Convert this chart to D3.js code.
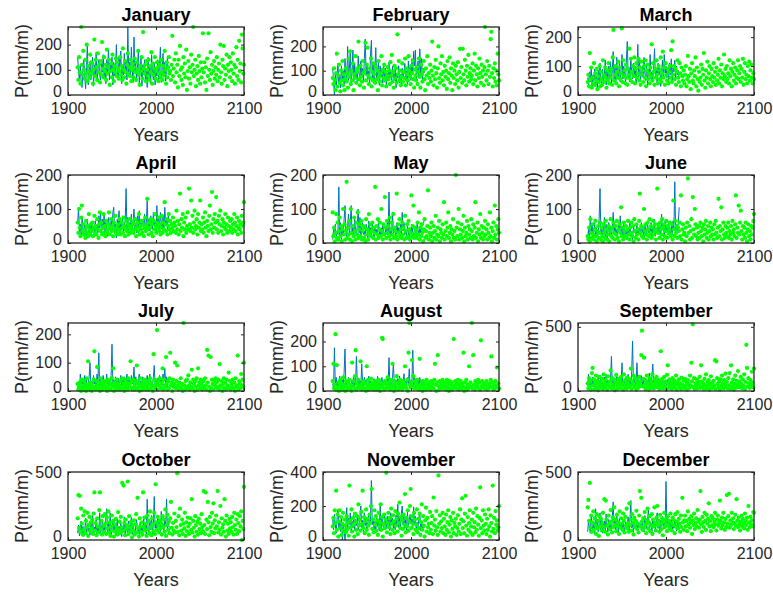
<!DOCTYPE html>
<html>
<head>
<meta charset="utf-8">
<script src="https://cdn.jsdelivr.net/npm/d3@7"></script>
<style>
  html, body { margin: 0; padding: 0; background: #fff; }
  svg { display: block; font-family: "Liberation Sans", Arial, Helvetica, sans-serif; }
</style>
</head>
<body>
<svg id="chart" width="773" height="595"></svg>
<script>
// Monthly precipitation: observed series (line, 1911-2015) and simulated values (dots, 1911-2100)
const months = ["January", "February", "March", "April", "May", "June",
  "July", "August", "September", "October", "November", "December"];
const yMax = [270, 280, 235, 200, 200, 200, 240, 275, 530, 500, 400, 500];
const yTicks = [[0,100,200],[0,100,200],[0,100,200],[0,100,200],[0,100,200],[0,100,200],
  [0,100,200],[0,100,200],[0,500],[0,500],[0,200,400],[0,500]];
const xTicks = [1900, 2000, 2100];
const obsStartYear = 1911;
const simStartYear = 1911, simEndYear = 2100;

// Observed monthly totals, one value per year from 1911
const obsJan = [150,90,60,120,45,30,100,140,70,25,110,205,40,80,130, 60,95,150,35,120,75,170,55,100,140,80,60,125,90,160, 70,110,45,140,85,180,60,120,95,150,40,130,75,105,200, 90,60,150,110,175,45,120,80,165,100,140,60,270,90,130, 70,190,100,50,230,85,130,60,110,180,45,95,150,35,120, 80,140,50,100,30,150,70,115,45,160,90,60,130,40,110, 75,140,60,120,190,50,100,165,70,130,55,110,150,80,95];
const obsFeb = [110,60,0,90,40,70,130,50,85,30,120,65,100,45,150, 80,50,200,60,110,175,40,90,185,55,130,70,100,45,160, 90,60,140,75,110,50,150,230,80,120,65,100,45,170,225, 70,130,50,110,195,60,90,140,40,120,75,100,50,130,65, 110,40,90,60,135,70,100,45,120,80,60,110,30,90,70, 120,50,85,40,110,70,95,130,60,100,45,140,80,115,60, 150,90,180,120,185,60,100,140,70,190,80,150,60,110,90];
const obsMar = [60,35,80,45,100,25,70,50,90,30,65,20,85,40,110, 55,30,90,45,70,120,35,80,50,100,60,115,40,85,150, 50,95,35,130,70,60,110,45,90,140,55,100,75,40,120, 185,60,95,45,130,80,55,110,70,100,40,90,175,60,120, 45,85,100,60,130,75,50,110,35,90,65,140,55,80,45, 100,160,60,85,40,110,70,95,30,80,120,55,140,75,100, 60,90,45,110,70,125,50,95,80,120,60,100,70,85,55];
const obsApr = [60,105,30,55,20,75,40,25,60,35,15,70,45,30,55, 20,60,40,50,25,65,35,55,30,80,45,90,25,70,40, 85,30,60,45,20,75,50,35,65,40,90,105,30,55,15, 70,40,95,30,60,45,80,35,50,65,160,40,75,30,60, 50,85,35,65,100,40,55,30,80,45,95,35,60,50,70, 40,85,30,60,125,45,70,35,80,55,40,90,50,65,35, 110,50,75,40,90,60,45,80,35,105,55,70,40,85,60];
const obsMay = [10,40,20,55,15,35,25,165,20,60,10,45,25,70,110, 30,15,50,85,20,60,110,25,45,15,70,35,20,55,100, 30,75,15,45,60,25,35,20,55,40,15,65,30,45,20, 60,35,15,50,25,40,20,65,35,15,45,25,55,30,20, 40,25,60,35,150,20,45,30,90,25,50,35,20,60,30, 45,25,55,20,90,35,60,25,40,20,50,30,15,45,25, 55,30,20,45,35,25,60,40,20,50,30,45,55,60,65];
const obsJun = [15,40,10,80,25,55,15,35,60,20,45,10,30,70,160, 25,50,15,40,75,20,55,10,35,60,25,45,15,50,90, 30,55,20,40,15,60,35,80,25,45,10,55,30,20,40, 15,45,25,60,20,35,10,50,30,40,15,55,25,35,45, 20,60,30,45,15,55,35,20,65,30,45,25,60,15,50, 35,70,20,45,30,60,25,50,15,85,40,55,20,65,30, 45,25,60,35,20,50,30,65,40,180,25,55,35,60,105];
const obsJul = [10,30,5,60,20,45,10,35,55,15,40,5,25,50,100, 20,35,10,55,25,40,15,60,30,135,20,45,10,35,55, 15,40,25,60,10,45,30,20,55,165,25,40,10,50,30, 20,45,10,35,55,15,40,25,50,10,35,60,20,45,30, 15,55,25,40,85,20,50,30,10,45,60,25,35,15,50, 30,10,45,25,55,20,40,60,15,35,25,50,90,20,40, 15,45,25,55,30,40,20,60,35,80,25,50,15,45,30];
const obsAug = [30,10,175,20,55,5,35,15,60,25,10,45,20,75,170, 15,40,10,55,25,30,5,45,20,60,15,35,140,25,50, 10,40,20,110,35,15,55,25,45,10,30,60,20,40,15, 35,20,50,10,40,25,60,15,30,45,20,55,10,35,25, 45,15,60,25,135,20,40,10,55,110,30,15,45,25,50, 20,60,30,15,45,25,70,10,40,20,55,30,90,15,45, 35,165,25,60,15,50,20,40,10,55,30,45,20,40,25];
const obsSep = [40,130,60,20,90,45,110,30,70,15,85,50,120,25,60, 95,35,70,20,110,50,130,40,85,25,60,100,270,45,75, 30,90,55,120,20,70,40,100,60,220,35,80,50,110,25, 65,130,45,90,30,150,390,60,110,40,75,220,55,95,30, 70,120,45,90,25,60,100,35,80,50,140,30,70,110,210, 55,95,30,70,45,100,25,65,85,40,110,55,30,80,60, 45,90,35,100,60,75,30,85,50,95,40,70,55,80,45];
const obsOct = [50,110,30,80,140,45,100,25,70,160,40,120,60,90,35, 130,55,180,40,95,70,150,30,110,60,200,45,85,130,50, 100,70,160,230,40,120,65,200,30,90,140,55,110,35,80, 150,45,100,70,130,25,90,60,170,40,115,75,30,140,55, 95,165,40,120,70,30,105,150,55,85,40,130,65,110,45, 160,70,125,40,300,90,55,140,75,180,45,115,320,85,130, 60,175,95,140,50,210,80,120,65,160,100,300,70,150,90];
const obsNov = [120,60,150,90,40,130,180,70,110,50,140,0,100,60,0, 80,190,50,130,90,160,40,110,70,145,55,120,85,150,60, 95,140,200,70,115,45,160,85,130,60,105,150,75,120,350, 90,130,60,110,45,140,80,100,55,215,70,125,90,60,150, 100,65,140,85,120,55,160,95,130,70,110,60,145,85,210, 75,130,60,155,200,90,140,70,120,55,165,85,110,150,95, 125,70,195,90,140,60,105,80,130,160,55,100,65,85,70];
const obsDec = [60,140,90,50,170,110,70,130,45,230,95,150,60,120,200, 80,160,50,110,140,70,190,100,60,150,85,125,55,170,280, 90,140,65,200,110,45,160,85,120,70,150,95,60,130,80, 110,170,60,140,290,90,120,55,160,100,75,145,65,130,90, 120,70,150,95,60,180,110,85,140,230,75,125,100,60,160, 90,135,70,150,200,85,120,60,145,100,175,80,130,95,430, 110,160,75,130,95,150,70,120,85,140,100,65,125,90,110];

// Simulated monthly totals, evenly spread over 1911-2100
const simJan = [110,60,150,90,45,270,120,80,175,100,65,140,85,200,55,115,95,70,160,130, 85,125,45,100,220,75,140,110,60,165,90,120,50,135,80,210,105,70,150,95, 120,60,180,85,110,140,40,95,125,70,160,100,55,115,90,145,75,130,105,65, 95,150,80,115,60,185,100,70,135,90,45,120,165,85,110,75,140,55,100,125, 70,110,145,90,60,130,100,175,80,40,115,95,150,65,250,105,85,120,55,135, 100,75,140,60,115,90,170,45,125,80,105,150,65,95,130,110,55,85,120,70, 140,90,60,115,80,175,100,45,130,70,110,150,85,95,60,120,235,75,105,140, 50,165,90,120,30,140,75,195,100,60,110,40,150,85,125,70,180,20,95,135, 65,110,45,160,90,120,270,75,100,140,35,85,115,60,155,95,45,130,70,105, 245,90,130,50,110,20,145,75,245,100,60,170,85,120,40,95,135,65,110,80, 150,55,100,125,70,200,90,45,140,115,195,60,105,80,160,35,120,95,150,70, 130,100,55,165,85,120,45,110,190,75,140,60,215,95,125,50,240,185,85,120];
const simFeb = [70,45,110,60,20,90,170,35,80,125,50,15,100,60,140,40,85,20,65,110, 55,90,30,150,75,180,45,100,60,130,20,85,70,160,50,95,110,220,65,40, 120,75,55,140,90,30,100,215,60,125,195,80,45,110,70,150,35,95,60,130, 85,50,115,65,100,20,140,75,55,90,160,40,105,70,125,60,95,35,80,115, 65,100,45,135,80,165,55,95,30,120,70,110,50,250,85,140,60,100,40,75, 130,55,95,70,150,40,110,85,60,160,100,75,45,120,90,140,65,30,105,80, 60,115,45,95,150,75,30,125,85,55,100,140,65,20,110,80,160,45,90,70, 125,55,100,220,80,40,115,65,145,90,30,110,200,70,50,130,85,160,60,95, 40,120,75,100,25,140,65,90,155,50,110,80,20,130,70,100,45,120,85,60, 135,30,95,190,70,115,50,190,85,60,145,100,40,120,75,165,55,90,110,65, 80,130,45,100,170,60,120,85,35,110,70,150,90,50,125,75,100,40,115,280, 85,60,140,100,45,120,75,230,260,90,35,110,70,130,55,100,40,170,85,60];
const simMar = [45,70,30,145,55,95,25,60,40,110,35,75,50,90,20,65,45,100,30,80, 55,35,120,70,45,95,60,25,85,50,110,40,75,60,90,35,130,225,50,70, 100,40,80,60,115,30,95,55,75,230,45,120,65,85,40,105,60,35,90,70, 160,55,125,80,45,100,65,130,40,90,110,60,75,125,50,95,35,115,70,85, 45,100,60,120,30,85,105,55,75,40,95,65,175,50,110,80,35,90,60,120, 70,40,100,55,85,130,45,75,150,60,95,35,110,70,50,90,40,80,100,60, 155,45,185,70,100,55,90,35,80,120,60,45,110,75,30,95,65,50,85,40, 70,100,30,55,135,65,45,90,20,75,110,50,40,85,65,130,30,95,55,15, 80,45,60,105,35,90,70,145,50,25,85,60,115,40,75,100,55,30,90,65, 45,110,60,80,35,95,50,70,125,40,85,60,105,30,75,55,140,65,90,45, 100,55,75,40,120,65,90,30,80,110,50,70,95,40,60,85,120,55,75,100, 45,90,60,125,35,80,110,55,70,40,100,65,115,50,85,105,60,40,75,55];
const simApr = [60,30,100,45,20,75,110,35,55,25,40,15,65,30,50,20,85,40,25,55, 35,60,20,45,80,30,50,25,70,40,15,55,90,35,60,25,45,85,30,50, 20,65,40,30,55,90,25,45,70,35,50,20,60,40,80,30,45,25,55,35, 70,40,25,60,45,30,75,50,20,40,65,35,55,25,45,70,30,50,40,60, 30,55,40,70,20,45,60,35,85,25,50,40,65,30,55,20,45,75,35,50, 130,40,25,60,45,70,30,55,20,65,40,85,50,30,60,45,75,35,55,25, 45,80,30,60,40,120,55,35,70,25,50,85,40,65,30,55,45,75,35,60, 50,30,95,40,65,25,55,145,35,70,45,85,20,60,40,75,30,50,90,40, 160,55,35,125,45,80,30,60,95,40,50,70,25,85,45,60,125,35,55,40, 75,30,60,90,45,20,65,50,35,80,110,40,55,150,30,70,45,85,60,135, 40,65,30,80,55,95,35,50,70,25,60,45,85,40,55,30,75,50,35,65, 45,70,30,55,40,85,60,35,50,75,25,45,65,40,55,30,80,50,60,120];
const simMay = [90,20,45,5,30,85,15,60,10,35,75,20,50,5,40,100,25,55,10,35, 180,15,45,25,65,10,100,30,5,50,20,75,35,10,60,25,90,15,40,55, 20,65,10,35,50,15,45,5,70,25,40,10,85,30,55,20,35,60,15,45, 30,165,10,50,25,70,15,40,60,20,100,35,10,55,25,135,45,15,65,30, 50,20,75,10,40,60,25,85,15,45,35,20,145,10,55,30,70,20,40,15, 60,25,45,10,80,35,15,55,20,65,40,10,30,140,20,50,110,15,45,25, 35,15,60,25,90,10,45,20,55,30,5,40,70,15,35,20,50,155,10,30, 45,20,60,5,30,50,15,35,80,10,25,45,20,65,5,40,30,15,55,25, 120,10,35,60,20,45,90,15,30,50,5,40,25,70,15,35,10,200,45,20, 60,100,10,40,25,55,15,35,80,5,45,20,30,65,10,50,25,40,15,70, 35,10,55,20,45,120,15,30,60,5,40,25,85,15,50,30,10,45,20,65, 25,40,10,55,30,15,90,20,45,5,35,60,15,110,25,50,10,40,70,30];
const simJun = [20,10,45,5,70,30,15,55,25,10,40,65,20,5,35,50,15,30,60,10, 45,20,5,55,30,15,65,40,10,25,50,5,35,70,20,45,15,60,30,10, 50,25,65,15,40,5,55,30,105,20,45,10,60,35,20,50,15,40,65,25, 10,45,30,60,20,50,5,70,35,15,55,25,40,10,65,145,30,50,20,45, 15,100,35,55,25,10,60,40,20,70,30,50,15,45,65,25,35,55,10,40, 160,30,50,15,60,40,25,70,10,45,55,20,35,65,15,50,30,40,60,20, 25,55,10,125,40,20,65,30,50,15,45,35,60,20,140,10,40,55,25,30, 5,45,20,60,190,30,50,10,35,70,15,135,40,25,100,55,20,45,10,30, 50,15,60,35,20,45,5,55,25,40,65,15,30,50,10,35,60,20,45,25, 40,10,55,25,65,30,15,45,130,20,50,35,105,10,40,60,25,15,50,30, 20,45,60,15,35,25,50,10,65,30,40,20,55,140,15,45,30,110,25,60, 95,35,10,50,25,45,15,60,30,5,40,55,20,35,10,50,25,45,65,85];
const simJul = [25,5,15,30,10,0,40,20,5,35,15,25,0,45,10,105,20,5,30,15, 0,25,10,40,140,15,5,35,85,20,10,30,0,45,15,25,5,35,20,10, 30,15,0,40,20,10,35,5,25,45,15,80,0,30,20,10,40,5,25,15, 20,5,35,15,45,10,25,0,40,20,10,30,5,45,15,25,105,10,35,5, 40,15,25,5,35,90,10,30,20,0,45,15,25,5,35,10,40,20,5,30, 15,35,5,25,45,10,30,20,0,130,15,40,10,25,215,5,35,20,45,15, 10,30,80,5,40,20,15,120,25,5,35,10,45,135,20,30,0,40,15,25, 100,10,35,90,20,5,30,15,45,10,25,0,240,20,5,35,15,40,10,55, 20,5,30,15,75,10,40,25,0,35,15,45,5,80,20,30,10,40,25,5, 15,35,10,45,20,5,145,30,125,15,0,120,10,40,25,5,35,20,45,15, 30,10,40,5,95,20,15,35,0,25,45,10,30,5,40,20,15,65,10,35, 5,25,15,40,10,30,0,45,20,15,125,5,35,25,10,60,20,40,15,100];
const simAug = [40,110,10,25,230,5,105,15,35,0,20,45,10,30,5,55,15,25,0,40, 20,5,35,10,45,15,25,0,115,20,40,10,60,165,5,30,15,45,20,10, 120,25,5,35,15,40,10,30,0,100,20,45,5,25,15,50,10,35,20,5, 30,15,40,5,25,10,45,20,0,35,15,215,210,25,5,40,10,30,20,55, 10,35,20,5,45,15,110,25,0,40,10,30,60,15,5,35,20,45,10,25, 5,40,15,30,100,20,10,45,0,155,275,25,15,35,125,20,60,10,40,15, 30,10,45,20,5,130,25,15,35,0,40,20,10,30,5,45,15,25,10,35, 20,5,40,15,30,10,45,110,25,0,35,145,20,5,40,15,30,10,45,20, 10,35,20,5,45,15,30,0,40,25,10,35,5,20,210,15,40,25,10,30, 45,5,25,15,40,10,30,20,155,0,35,15,45,5,25,10,100,20,35,15, 275,10,145,25,5,40,15,30,20,45,10,35,5,205,20,40,15,30,10,25, 15,40,5,25,10,30,20,45,140,15,35,5,25,10,40,20,95,15,30,10];
const simSep = [60,20,100,35,75,10,140,180,45,90,15,65,120,30,80,5,55,110,25,70, 40,95,15,130,60,25,85,45,10,115,55,35,75,160,20,100,50,30,90,5, 70,125,40,15,95,55,80,25,110,45,65,10,130,35,85,50,20,105,60,30, 90,40,175,15,75,55,120,30,100,45,10,85,60,25,110,40,70,280,470,35, 95,260,50,15,80,120,35,60,10,100,45,75,25,130,55,20,90,40,65,110, 30,85,50,15,70,310,40,95,20,60,110,35,75,10,125,200,55,25,90,45, 65,15,100,40,80,25,55,120,10,70,45,90,30,60,15,105,50,35,80,20, 95,40,65,10,85,55,25,120,45,220,75,520,30,100,15,60,40,90,20,70, 50,110,25,200,75,35,60,15,95,45,130,20,70,40,85,10,55,115,30,65, 25,80,45,240,15,230,100,55,30,75,10,90,40,120,60,20,85,50,135,35, 70,20,100,45,140,15,200,65,35,90,10,55,120,25,80,50,155,30,75,40, 110,55,20,90,40,130,15,70,360,180,35,100,60,25,85,45,150,65,30,175];
const simOct = [160,330,90,325,60,230,120,40,180,75,210,50,140,95,200,30,110,170,65,130, 85,150,45,195,350,70,125,35,160,100,55,220,350,80,140,40,175,105,60,190, 120,45,165,85,210,55,130,30,100,180,70,140,25,115,60,155,90,40,205,75, 135,50,170,95,420,65,400,125,35,150,80,110,430,45,175,90,60,135,20,105, 70,145,40,115,190,55,310,85,25,160,100,60,130,40,350,95,165,70,120,30, 180,80,140,50,210,95,35,160,115,65,200,45,410,130,75,170,105,55,145,85, 120,40,175,95,150,60,225,30,110,185,75,135,50,160,280,90,40,125,70,195, 55,140,95,490,60,175,35,230,110,70,150,45,120,85,200,30,130,65,165,100, 45,120,160,75,300,55,140,90,25,175,110,60,135,40,155,80,120,50,190,95, 65,360,110,45,350,150,80,280,130,35,170,95,60,200,120,270,50,145,85,180, 100,360,55,130,75,250,40,160,90,115,60,300,140,25,180,70,120,45,155,85, 130,60,170,95,40,200,110,75,150,45,190,125,65,175,100,210,0,140,80,390];
const simNov = [80,130,40,175,100,290,60,150,20,110,175,70,135,30,95,160,55,120,85,45, 140,65,100,25,320,115,75,180,50,130,90,20,155,105,60,140,35,210,85,120, 55,165,95,290,70,135,40,110,180,60,125,85,30,150,100,200,300,65,120,45, 175,90,140,55,115,30,160,80,105,210,60,135,20,95,150,70,120,395,45,100, 160,75,130,35,185,95,60,145,110,40,170,85,125,50,155,100,220,70,135,25, 115,65,150,90,270,45,130,80,175,55,110,200,300,70,140,95,35,160,120,60, 90,180,45,125,70,155,30,105,210,60,140,85,20,115,190,50,130,75,95,40, 165,60,100,140,35,250,85,120,55,170,75,30,380,95,145,50,110,70,160,40, 125,80,30,150,60,105,175,45,90,135,20,115,65,160,40,100,80,125,30,70, 145,50,95,180,35,120,245,70,110,40,155,260,85,25,135,60,100,175,45,80, 120,30,160,75,105,45,185,60,140,90,25,130,310,70,115,40,175,85,55,150, 95,35,125,60,180,80,20,145,100,50,320,65,130,40,170,90,115,55,75,200];
const simDec = [240,295,140,420,90,180,60,130,210,75,160,110,45,190,85,140,30,175,100,155, 70,125,200,95,300,60,290,150,105,40,180,120,80,220,135,55,165,95,240,110, 150,65,185,100,130,45,210,90,160,120,75,195,140,55,170,105,230,85,125,60, 270,110,150,70,190,125,40,165,95,140,215,80,120,55,180,360,100,310,135,75, 160,90,205,115,50,145,230,85,130,175,65,110,190,45,150,100,240,125,70,165, 250,105,140,60,185,120,80,160,35,135,200,95,150,115,65,175,105,140,85,195, 125,70,165,110,145,50,190,100,135,205,85,155,120,60,180,95,310,130,75,145, 180,100,140,65,210,115,155,90,130,175,45,145,110,195,80,125,160,100,220,135, 90,150,360,115,60,170,130,95,200,140,75,185,120,155,270,100,140,65,175,110, 160,95,135,200,115,70,150,180,105,125,290,140,85,165,110,200,130,75,155,95, 330,120,175,340,90,145,110,200,130,160,80,125,185,105,300,140,95,165,115,70, 135,180,100,155,120,85,195,140,110,165,75,250,130,95,170,115,145,100,205,200];

const observed = [obsJan, obsFeb, obsMar, obsApr, obsMay, obsJun, obsJul, obsAug, obsSep, obsOct, obsNov, obsDec];
const simulated = [simJan, simFeb, simMar, simApr, simMay, simJun, simJul, simAug, simSep, simOct, simNov, simDec];

// Grid of panels: 3 columns x 4 rows
const colLeft = [68, 323, 578];
const rowTop = [27, 175, 323, 472];
const pw = 176, ph = 68;
const axisColor = "#262626";

const svg = d3.select("#chart");

months.forEach((name, m) => {
  const left = colLeft[m % 3], top = rowTop[Math.floor(m / 3)];
  const g = svg.append("g").attr("transform", `translate(${left},${top})`);

  const x = d3.scaleLinear().domain([1900, 2100]).range([0, pw]);
  const y = d3.scaleLinear().domain([0, yMax[m]]).range([ph, 0]);

  // observed line
  const obs = observed[m].map((v, i) => [obsStartYear + i, v]);
  g.append("path")
    .datum(obs)
    .attr("fill", "none")
    .attr("stroke", "#0072BD")
    .attr("stroke-width", 1)
    .attr("d", d3.line().x(d => x(d[0])).y(d => y(d[1])));

  // simulated points
  const sim = simulated[m];
  const step = (simEndYear - simStartYear) / (sim.length - 1);
  g.append("g").selectAll("circle")
    .data(sim.map((v, i) => [simStartYear + i * step, v]))
    .join("circle")
    .attr("cx", d => x(d[0]))
    .attr("cy", d => y(d[1]))
    .attr("r", 2.1)
    .attr("fill", "#00FF00");

  // axes with inward ticks
  const styleAxis = sel => {
    sel.select(".domain").remove();
    sel.selectAll(".tick line").attr("stroke", axisColor);
    sel.selectAll(".tick text").attr("fill", axisColor)
      .style("font-size", "16px").style("font-family", "'Liberation Sans', Arial, sans-serif");
  };
  g.append("g").attr("transform", `translate(0,${ph})`)
    .call(d3.axisBottom(x).tickValues(xTicks).tickFormat(d3.format("d")).tickSize(-3).tickPadding(8))
    .call(styleAxis);
  g.append("g")
    .call(d3.axisTop(x).tickValues(xTicks).tickFormat("").tickSize(-3))
    .call(styleAxis);
  const yAxis = g.append("g")
    .call(d3.axisLeft(y).tickValues(yTicks[m]).tickFormat(d3.format("d")).tickSize(-3).tickPadding(6))
    .call(styleAxis);
  // lift the zero label slightly so it clears the year labels
  yAxis.selectAll(".tick text").filter(d => d === 0).attr("dy", "0.1em");
  g.append("g").attr("transform", `translate(${pw},0)`)
    .call(d3.axisRight(y).tickValues(yTicks[m]).tickFormat("").tickSize(-3))
    .call(styleAxis);

  g.append("rect")
    .attr("width", pw).attr("height", ph)
    .attr("fill", "none").attr("stroke", axisColor).attr("stroke-width", 1.3);

  // labels
  g.append("text")
    .attr("x", pw / 2).attr("y", -6)
    .attr("text-anchor", "middle")
    .attr("font-weight", "bold").attr("font-size", 18).attr("fill", "#000")
    .text(name);
  g.append("text")
    .attr("x", pw / 2).attr("y", ph + 46)
    .attr("text-anchor", "middle")
    .attr("font-size", 18).attr("fill", axisColor)
    .text("Years");
  g.append("text")
    .attr("transform", `translate(-40,${ph / 2}) rotate(-90)`)
    .attr("text-anchor", "middle")
    .attr("font-size", 18).attr("fill", axisColor)
    .text("P(mm/m)");
});
</script>
</body>
</html>
